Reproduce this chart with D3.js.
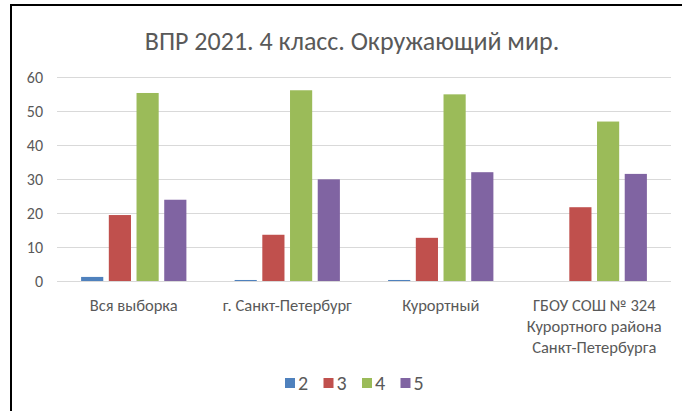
<!DOCTYPE html>
<html>
<head>
<meta charset="utf-8">
<script src="https://cdn.jsdelivr.net/npm/d3@7"></script>
<style>
  body { margin: 0; background: #fff; }
  svg { display: block; }
</style>
</head>
<body>
<script>
const width = 682;
const height = 411;
const margin = { top: 77, right: 11, bottom: 130, left: 57 };

const title = "ВПР 2021. 4 класс. Окружающий мир.";
const categories = [
    ["Вся выборка"],
    ["г. Санкт-Петербург"],
    ["Курортный"],
    ["ГБОУ СОШ № 324", "Курортного района", "Санкт-Петербурга"]
];
const seriesNames = ["2", "3", "4", "5"];
const grade2 = [1.2, 0.3, 0.3, 0];
const grade3 = [19.4, 13.6, 12.7, 21.7];
const grade4 = [55.3, 56.1, 54.9, 46.9];
const grade5 = [23.9, 29.9, 32.0, 31.5];
const yTicks = [0, 10, 20, 30, 40, 50, 60];
const colors = ["#4f81bd", "#c0504d", "#9bbb59", "#8064a2"];

const font = "Carlito, Calibri, 'Liberation Sans Narrow', 'Arial Narrow', 'DejaVu Sans Condensed', sans-serif";

const values = [grade2, grade3, grade4, grade5];
const data = categories.map((c, i) => ({
    idx: i,
    label: c,
    vals: seriesNames.map((s, k) => ({ key: s, value: values[k][i] }))
}));

const svg = d3.select("body")
    .append("svg")
    .attr("width", width)
    .attr("height", height);

// frame lines (top + left)
svg.append("line")
    .attr("x1", 10).attr("x2", width).attr("y1", 5).attr("y2", 5)
    .attr("stroke", "#000").attr("stroke-width", 2);
svg.append("line")
    .attr("x1", 11).attr("x2", 11).attr("y1", 4).attr("y2", height)
    .attr("stroke", "#000").attr("stroke-width", 2);

const x0 = d3.scaleBand()
    .domain(data.map(d => d.idx))
    .range([margin.left, width - margin.right])
    .padding(0);

const x1 = d3.scaleBand()
    .domain(seriesNames)
    .range([0, x0.bandwidth()])
    .paddingInner(0.2)
    .paddingOuter(0.87);

const y = d3.scaleLinear()
    .domain([0, 60])
    .range([281, 77]);

// gridlines
svg.append("g")
    .selectAll("line")
    .data(yTicks)
    .enter()
    .append("line")
    .attr("x1", margin.left)
    .attr("x2", width - margin.right)
    .attr("y1", d => Math.round(y(d)) + 0.5)
    .attr("y2", d => Math.round(y(d)) + 0.5)
    .attr("stroke", "#d9d9d9")
    .attr("stroke-width", 1);

// y tick labels
svg.append("g")
    .selectAll("text")
    .data(yTicks)
    .enter()
    .append("text")
    .attr("x", 43)
    .attr("y", d => y(d))
    .attr("dy", "0.35em")
    .attr("text-anchor", "end")
    .attr("font-family", font)
    .attr("font-size", 16)
    .attr("fill", "#595959")
    .text(d => d);

// bars
svg.append("g")
    .selectAll("g")
    .data(data)
    .enter()
    .append("g")
    .attr("transform", d => `translate(${x0(d.idx)},0)`)
    .selectAll("rect")
    .data(d => d.vals)
    .enter()
    .append("rect")
    .attr("x", d => x1(d.key))
    .attr("y", d => y(d.value))
    .attr("width", x1.bandwidth())
    .attr("height", d => y(0) - y(d.value))
    .attr("fill", (d, i) => colors[i]);

// category labels
const catLabels = svg.append("g")
    .selectAll("text")
    .data(data)
    .enter()
    .append("text")
    .attr("x", d => x0(d.idx) + x0.bandwidth() / 2)
    .attr("y", 311)
    .attr("text-anchor", "middle")
    .attr("font-family", font)
    .attr("font-size", 16.5)
    .attr("fill", "#595959");

catLabels.selectAll("tspan")
    .data(d => d.label)
    .enter()
    .append("tspan")
    .attr("x", function () { return d3.select(this.parentNode).attr("x"); })
    .attr("dy", (d, i) => i === 0 ? 0 : 21)
    .text(d => d);

// title
svg.append("text")
    .attr("x", 352)
    .attr("y", 49.5)
    .attr("text-anchor", "middle")
    .attr("font-family", font)
    .attr("font-size", 26)
    .attr("fill", "#595959")
    .text(title);

// legend
const legend = svg.append("g")
    .selectAll("g")
    .data(seriesNames)
    .enter()
    .append("g")
    .attr("transform", (d, i) => `translate(${285 + i * 38.5},378)`);

legend.append("rect")
    .attr("width", 10)
    .attr("height", 10)
    .attr("fill", (d, i) => colors[i]);

legend.append("text")
    .attr("x", 13)
    .attr("y", 11.5)
    .attr("font-family", font)
    .attr("font-size", 20)
    .attr("fill", "#595959")
    .text(d => d);
</script>
</body>
</html>
